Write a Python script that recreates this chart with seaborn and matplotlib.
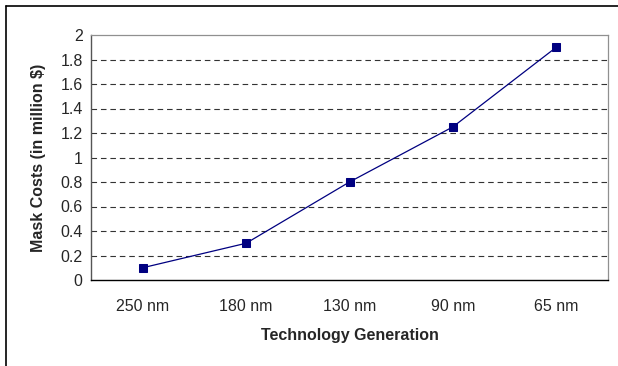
import matplotlib
matplotlib.use("Agg")
import matplotlib.pyplot as plt
import seaborn as sns
import pandas as pd
from matplotlib.lines import Line2D

# data
generations = ["250 nm", "180 nm", "130 nm", "90 nm", "65 nm"]
mask_costs = [0.1, 0.3, 0.8, 1.25, 1.9]
y_ticks = [0, 0.2, 0.4, 0.6, 0.8, 1, 1.2, 1.4, 1.6, 1.8, 2]
y_tick_labels = ["0", "0.2", "0.4", "0.6", "0.8", "1", "1.2", "1.4", "1.6", "1.8", "2"]

df = pd.DataFrame({"Generation": generations, "Cost": mask_costs})

sns.set_style("white")
plt.rcParams["font.family"] = ["Liberation Sans", "DejaVu Sans"]

fig = plt.figure(figsize=(6.18, 3.66), dpi=100)
ax = fig.add_axes([91 / 618, 1 - 280 / 366, 517 / 618, 245 / 366])

sns.lineplot(x="Generation", y="Cost", data=df, ax=ax, color="#000080",
             marker="s", markersize=6, markeredgecolor="#000080",
             linewidth=0.9, sort=False)

ax.set_xlim(-0.5, len(generations) - 0.5)
ax.set_ylim(0, 2)

# dashed horizontal gridlines
for v in y_ticks[1:-1]:
    ax.axhline(v, color="#333333", linewidth=0.8, linestyle=(0, (5, 3.5)), zorder=0)

ax.set_yticks(y_ticks)
ax.set_yticklabels(y_tick_labels, fontsize=11.5)
ax.set_xticks(range(len(generations)))
ax.set_xticklabels(generations, fontsize=11.5)
ax.tick_params(axis="x", which="major", length=0, pad=14)
ax.set_xticks([i - 0.5 for i in range(len(generations) + 1)], minor=True)
ax.tick_params(axis="x", which="minor", length=4, width=0.8, direction="out", color="black")
ax.tick_params(axis="y", which="major", length=4, width=0.8, direction="out", color="black", pad=2)

for side in ["top", "right"]:
    ax.spines[side].set_color("#909090")
    ax.spines[side].set_linewidth(0.9)
ax.spines["left"].set_color("#555555")
ax.spines["left"].set_linewidth(1.0)
ax.spines["bottom"].set_color("black")
ax.spines["bottom"].set_linewidth(1.0)

ax.set_xlabel("Technology Generation", fontsize=11.5, fontweight="bold", labelpad=10)
ax.set_ylabel("Mask Costs (in million $)", fontsize=11.5, fontweight="bold", labelpad=10)

# outer chart border (left and top visible)
fig.add_artist(Line2D([6 / 618, 6 / 618], [0, 1 - 6 / 366], transform=fig.transFigure,
                      color="black", linewidth=1.2))
fig.add_artist(Line2D([6 / 618, 1], [1 - 6 / 366, 1 - 6 / 366], transform=fig.transFigure,
                      color="black", linewidth=1.2))

fig.savefig("out.png", dpi=100)
